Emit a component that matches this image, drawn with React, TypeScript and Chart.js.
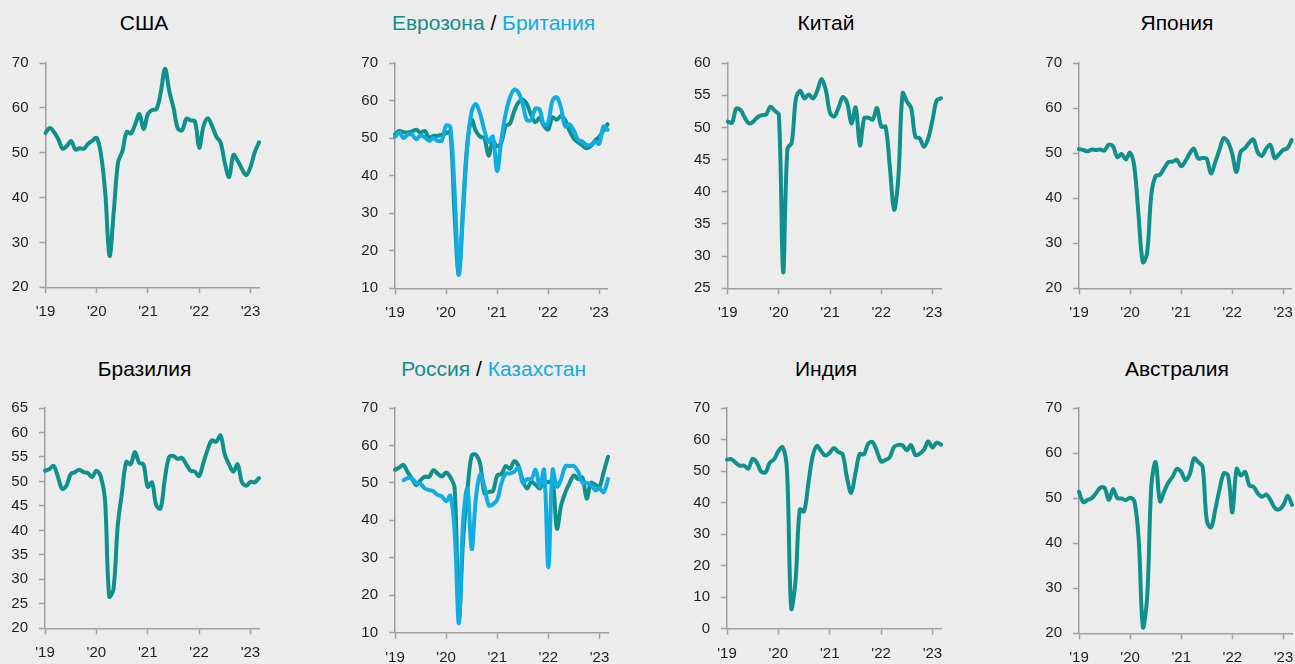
import React, { useEffect, useRef } from "react";
import { Chart, registerables } from "chart.js";

Chart.register(...registerables);

// ---- categories & tick labels ----
const months: string[] = [];
for (let y = 2019; y <= 2023; y++) {
  for (let m = 1; m <= 12; m++) {
    if (months.length < 51) months.push(`${y}-${String(m).padStart(2, "0")}`);
  }
}
const yearLabels = ["'19", "'20", "'21", "'22", "'23"];

// ---- series (Jan 2019 – Mar 2023) ----
const usa = [
  54.4, 55.5, 54.6, 53.0, 50.9, 51.5, 52.6, 50.7, 51.0, 50.9, 52.0, 52.7,
  53.3, 49.6, 40.9, 27.0, 37.0, 47.9, 50.3, 54.6, 54.3, 56.3, 58.6, 55.3,
  58.7, 59.5, 59.7, 63.5, 68.7, 63.7, 59.9, 55.4, 55.0, 57.6, 57.2, 57.0,
  51.1, 55.9, 57.7, 56.0, 53.6, 52.3, 47.7, 44.6, 49.5, 48.2, 46.4, 45.0,
  46.8, 50.1, 52.3,
];
const eurozone = [
  51.0, 51.9, 51.6, 51.5, 51.8, 52.2, 51.5, 51.9, 50.1, 50.6, 50.6, 50.9,
  51.3, 51.6, 29.7, 13.6, 31.9, 48.5, 54.9, 51.9, 50.4, 50.0, 45.3, 49.1,
  47.8, 48.8, 53.2, 53.8, 57.1, 59.5, 60.2, 59.0, 56.2, 54.2, 55.4, 53.3,
  52.3, 55.5, 54.9, 55.8, 54.8, 52.0, 49.9, 48.9, 48.1, 47.3, 47.8, 49.3,
  50.3, 52.0, 53.7,
];
const britain = [
  50.3, 51.5, 50.0, 50.9, 50.9, 49.7, 50.7, 50.2, 49.3, 50.0, 49.3, 49.3,
  53.3, 53.0, 36.0, 13.8, 30.0, 47.7, 57.0, 59.1, 56.5, 52.1, 49.0, 50.4,
  41.2, 49.6, 56.4, 60.7, 62.9, 62.2, 59.2, 54.8, 54.9, 57.8, 57.6, 53.6,
  54.2, 59.9, 60.9, 58.2, 53.1, 53.7, 52.1, 49.6, 49.1, 48.2, 48.2, 49.0,
  48.5, 53.1, 52.2,
];
const china = [
  50.9, 50.7, 52.9, 52.7, 51.5, 50.6, 50.9, 51.6, 51.9, 52.0, 53.2, 52.6,
  51.9, 27.5, 46.7, 47.6, 54.5, 55.7, 54.5, 55.1, 54.5, 55.7, 57.5, 55.8,
  52.2, 51.7, 53.1, 54.7, 53.8, 50.6, 53.1, 47.2, 51.4, 51.5, 51.2, 53.0,
  50.1, 50.1, 43.9, 37.2, 42.2, 55.3, 54.0, 53.0, 48.5, 48.3, 47.0, 48.3,
  51.1, 54.2, 54.5,
];
const japan = [
  50.9, 50.7, 50.4, 50.8, 50.7, 50.8, 50.6, 51.9, 51.5, 49.1, 49.8, 48.6,
  50.1, 47.0, 36.2, 25.8, 27.8, 40.8, 44.9, 45.2, 46.6, 48.0, 48.1, 48.5,
  47.1, 48.2, 49.9, 51.0, 48.8, 48.9, 48.8, 45.5, 47.9, 50.7, 53.3, 52.5,
  49.9, 45.8, 50.3, 51.1, 52.3, 53.0, 50.2, 49.4, 51.0, 51.8, 48.9, 49.7,
  50.7, 51.1, 52.9,
];
const brazil = [
  52.2, 52.5, 53.2, 51.0, 48.5, 49.1, 51.5, 51.9, 52.4, 51.9, 51.7, 50.9,
  52.2, 51.1, 46.5, 26.5, 28.0, 41.0, 47.8, 54.0, 53.5, 56.0, 53.8, 53.5,
  48.9, 49.8, 45.1, 44.5, 50.5, 55.0, 55.2, 54.6, 54.8, 53.5, 52.2, 52.0,
  51.1, 53.8, 56.5, 58.4, 58.1, 59.4, 55.5, 53.5, 52.0, 53.5, 49.9, 49.1,
  49.9, 49.8, 50.7,
];
const russia = [
  53.5, 54.1, 54.8, 52.8, 51.1, 49.4, 50.7, 51.7, 51.6, 53.4, 52.5, 51.7,
  52.8, 51.5, 48.6, 13.9, 35.0, 48.0, 57.3, 57.5, 55.0, 47.2, 47.6, 47.8,
  52.0, 52.4, 54.5, 53.8, 55.8, 54.5, 50.6, 48.5, 50.3, 49.5, 48.5, 50.3,
  50.2, 50.5, 37.8, 44.0, 47.5, 50.0, 52.0, 51.0, 51.4, 45.8, 50.0, 49.5,
  49.0, 53.0, 57.0,
];
const kazakhstan = [
  null, null, 50.7, 51.3, 51.1, 50.0, 49.8, 48.5, 48.1, 47.8, 46.8, 46.4,
  45.1, 46.6, 37.0, 12.5, 40.0, 48.5, 32.3, 46.0, 52.3, 49.0, 44.0, 44.3,
  45.5, 50.0, 52.5, 52.5, 53.0, 54.0, 50.0, 51.0, 51.0, 53.5, 49.0, 53.5,
  27.5, 53.5, 49.0, 51.0, 54.5, 54.5, 54.5, 53.0, 50.0, 50.0, 49.5, 48.0,
  48.5, 47.5, 51.0,
];
const india = [
  53.6, 53.8, 52.7, 51.7, 51.7, 50.8, 53.9, 52.6, 49.8, 49.6, 52.7, 53.7,
  56.3, 57.6, 50.6, 6.5, 15.0, 37.8, 37.2, 46.0, 54.6, 58.0, 56.3, 54.9,
  55.8, 57.3, 56.0, 55.4, 48.1, 43.1, 49.2, 55.4, 55.3, 58.7, 59.2, 56.4,
  53.0, 53.5, 54.3, 57.6, 58.3, 58.2, 56.6, 58.2, 55.1, 55.5, 56.7, 59.4,
  57.5, 59.0, 58.4,
];
const australia = [
  51.4, 49.1, 49.6, 50.0, 51.1, 52.3, 52.3, 49.6, 52.0, 50.0, 49.9, 49.6,
  50.1, 49.3, 41.0, 21.4, 28.1, 53.0, 58.0, 49.3, 51.5, 53.5, 54.8, 56.5,
  55.8, 54.0, 55.3, 58.8, 58.0, 57.0, 45.0, 43.5, 47.5, 52.0, 55.5, 55.0,
  46.8, 56.5, 55.0, 55.8, 52.8, 52.5, 51.0, 50.3, 50.8, 49.5, 47.8, 47.5,
  48.5, 50.5, 48.5,
];

// ---- styles ----
const TEAL = "#10908b";
const BLUE = "#0fade1";
const AXIS = "#a0a0a0";
const LABEL = "#1e1e1e";
const BG = "#ececec";
const TICK_FONT = { family: "'Liberation Sans', Arial, sans-serif", size: 15 };

type Series = { data: (number | null)[]; color: string };
type PanelCfg = {
  l: number; r: number; t: number; b: number;
  min: number; max: number; step: number;
  series: Series[];
  title: { text: string; color: string }[];
  titleX: number; titleTop: number;
};

const panels: PanelCfg[] = [
  { l: 45.5, r: 259, t: 55, b: 287.3, min: 20, max: 70, step: 10,
    series: [{ data: usa, color: TEAL }],
    title: [{ text: "США", color: "#000" }], titleX: 144, titleTop: 12.2 },
  { l: 395, r: 607.7, t: 55, b: 288.3, min: 10, max: 70, step: 10,
    series: [{ data: britain, color: BLUE }, { data: eurozone, color: TEAL }],
    title: [{ text: "Еврозона", color: TEAL }, { text: " / ", color: "#000" }, { text: "Британия", color: BLUE }],
    titleX: 493.5, titleTop: 12.2 },
  { l: 727.7, r: 941, t: 55, b: 288.3, min: 25, max: 60, step: 5,
    series: [{ data: china, color: TEAL }],
    title: [{ text: "Китай", color: "#000" }], titleX: 826, titleTop: 12.2 },
  { l: 1079, r: 1291.7, t: 55, b: 288.3, min: 20, max: 70, step: 10,
    series: [{ data: japan, color: TEAL }],
    title: [{ text: "Япония", color: "#000" }], titleX: 1177, titleTop: 12.2 },
  { l: 45, r: 259, t: 400, b: 628.3, min: 20, max: 65, step: 5,
    series: [{ data: brazil, color: TEAL }],
    title: [{ text: "Бразилия", color: "#000" }], titleX: 144.5, titleTop: 358.2 },
  { l: 395, r: 608, t: 400, b: 632.7, min: 10, max: 70, step: 10,
    series: [{ data: kazakhstan, color: BLUE }, { data: russia, color: TEAL }],
    title: [{ text: "Россия", color: TEAL }, { text: " / ", color: "#000" }, { text: "Казахстан", color: BLUE }],
    titleX: 493.7, titleTop: 358.2 },
  { l: 727, r: 941, t: 400, b: 628.7, min: 0, max: 70, step: 10,
    series: [{ data: india, color: TEAL }],
    title: [{ text: "Индия", color: "#000" }], titleX: 826, titleTop: 358.2 },
  { l: 1079, r: 1292, t: 400, b: 633.3, min: 20, max: 70, step: 10,
    series: [{ data: australia, color: TEAL }],
    title: [{ text: "Австралия", color: "#000" }], titleX: 1177, titleTop: 358.2 },
];

function Panel({ cfg }: { cfg: PanelCfg }) {
  const ref = useRef<HTMLCanvasElement>(null);
  const cl = Math.floor(cfg.l) - 45;
  const ct = Math.floor(cfg.t) - 12;
  const cr = Math.ceil(cfg.r) + 12;
  const cb = Math.ceil(cfg.b) + 42;

  useEffect(() => {
    if (!ref.current) return;
    const chart = new Chart(ref.current, {
      type: "line",
      data: {
        labels: months,
        datasets: cfg.series.map((s) => ({
          data: s.data,
          borderColor: s.color,
          backgroundColor: s.color,
          borderWidth: 4,
          pointRadius: 0,
          tension: 0.35,
          fill: false,
          spanGaps: false,
          borderCapStyle: "round" as const,
          borderJoinStyle: "round" as const,
        })),
      },
      options: {
        animation: false,
        responsive: false,
        devicePixelRatio: 1,
        layout: { padding: { left: 0, top: cfg.t - ct, right: cr - cfg.r, bottom: 0 } },
        plugins: { legend: { display: false }, tooltip: { enabled: false }, title: { display: false } },
        scales: {
          x: {
            type: "category",
            offset: false,
            grid: { display: true, drawOnChartArea: false, drawTicks: true, tickLength: 6, tickColor: AXIS, tickWidth: 1.5, color: AXIS },
            border: { display: true, color: AXIS, width: 1.5 },
            ticks: {
              autoSkip: false,
              maxRotation: 0,
              minRotation: 0,
              padding: 10,
              color: LABEL,
              font: TICK_FONT,
              callback: (v: any) => yearLabels[Math.round(Number(v) / 12)] ?? "",
            },
            afterBuildTicks: (s: any) => {
              s.ticks = s.ticks.filter((t: any) => t.value % 12 === 0);
            },
            afterFit: (s: any) => {
              s.height = cb - cfg.b;
            },
          },
          y: {
            type: "linear",
            min: cfg.min,
            max: cfg.max,
            grid: { display: true, drawOnChartArea: false, drawTicks: true, tickLength: 6, tickColor: AXIS, tickWidth: 1.5, color: AXIS },
            border: { display: true, color: AXIS, width: 1.5 },
            ticks: { stepSize: cfg.step, padding: 11, color: LABEL, font: TICK_FONT },
            afterFit: (s: any) => {
              s.width = cfg.l - cl;
            },
          },
        },
      },
    } as any);
    return () => chart.destroy();
  }, []);

  return (
    <canvas
      ref={ref}
      width={cr - cl}
      height={cb - ct}
      style={{ position: "absolute", left: cl, top: ct, width: cr - cl, height: cb - ct }}
    />
  );
}

export default function App() {
  useEffect(() => {
    document.body.style.margin = "0";
    document.body.style.background = BG;
  }, []);
  return (
    <div
      style={{
        position: "fixed",
        left: 0,
        top: 0,
        width: 1295,
        height: 664,
        background: BG,
        overflow: "hidden",
        fontFamily: "'Liberation Sans', Arial, sans-serif",
      }}
    >
      {panels.map((p, i) => (
        <React.Fragment key={i}>
          <div
            style={{
              position: "absolute",
              left: p.titleX,
              top: p.titleTop,
              transform: "translateX(-50%)",
              fontSize: 21,
              lineHeight: "21px",
              whiteSpace: "nowrap",
            }}
          >
            {p.title.map((t, j) => (
              <span key={j} style={{ color: t.color, whiteSpace: "pre" }}>
                {t.text}
              </span>
            ))}
          </div>
          <Panel cfg={p} />
        </React.Fragment>
      ))}
    </div>
  );
}
